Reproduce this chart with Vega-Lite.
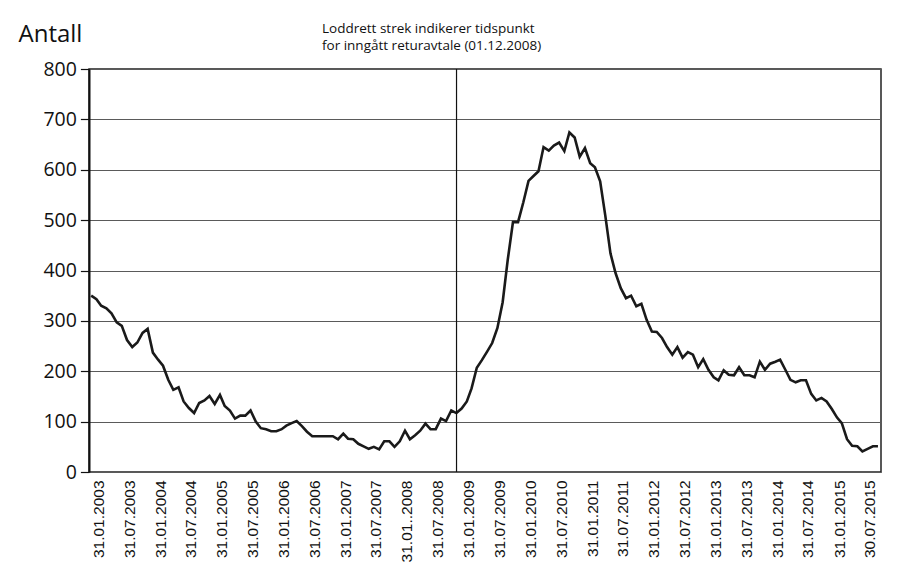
{
  "$schema": "https://vega.github.io/schema/vega-lite/v6.json",
  "width": 792,
  "height": 403,
  "autosize": {"type": "none"},
  "padding": {"left": 89, "top": 69, "right": 43, "bottom": 98},
  "background": "white",
  "title": {
    "text": ["Loddrett strek indikerer tidspunkt", "for inngått returavtale (01.12.2008)"],
    "anchor": "start",
    "align": "left",
    "frame": "group",
    "dx": 233,
    "offset": -30,
    "font": "Open Sans",
    "fontSize": 13.5,
    "fontWeight": "normal",
    "lineHeight": 17,
    "color": "#111111"
  },
  "datasets": {
    "series": [
      {"dato": "2002-12-31", "antall": 350},
      {"dato": "2003-01-31", "antall": 343}, {"dato": "2003-02-28", "antall": 330}, {"dato": "2003-03-31", "antall": 325}, {"dato": "2003-04-30", "antall": 315}, {"dato": "2003-05-31", "antall": 297}, {"dato": "2003-06-30", "antall": 290}, {"dato": "2003-07-31", "antall": 262}, {"dato": "2003-08-31", "antall": 248}, {"dato": "2003-09-30", "antall": 257}, {"dato": "2003-10-31", "antall": 276}, {"dato": "2003-11-30", "antall": 284}, {"dato": "2003-12-31", "antall": 237},
      {"dato": "2004-01-31", "antall": 223}, {"dato": "2004-02-29", "antall": 211}, {"dato": "2004-03-31", "antall": 183}, {"dato": "2004-04-30", "antall": 163}, {"dato": "2004-05-31", "antall": 168}, {"dato": "2004-06-30", "antall": 140}, {"dato": "2004-07-31", "antall": 127}, {"dato": "2004-08-31", "antall": 117}, {"dato": "2004-09-30", "antall": 137}, {"dato": "2004-10-31", "antall": 142}, {"dato": "2004-11-30", "antall": 151}, {"dato": "2004-12-31", "antall": 135},
      {"dato": "2005-01-31", "antall": 153}, {"dato": "2005-02-28", "antall": 131}, {"dato": "2005-03-31", "antall": 122}, {"dato": "2005-04-30", "antall": 106}, {"dato": "2005-05-31", "antall": 112}, {"dato": "2005-06-30", "antall": 112}, {"dato": "2005-07-31", "antall": 122}, {"dato": "2005-08-31", "antall": 100}, {"dato": "2005-09-30", "antall": 87}, {"dato": "2005-10-31", "antall": 85}, {"dato": "2005-11-30", "antall": 81}, {"dato": "2005-12-31", "antall": 81},
      {"dato": "2006-01-31", "antall": 85}, {"dato": "2006-02-28", "antall": 92}, {"dato": "2006-03-31", "antall": 97}, {"dato": "2006-04-30", "antall": 101}, {"dato": "2006-05-31", "antall": 91}, {"dato": "2006-06-30", "antall": 80}, {"dato": "2006-07-31", "antall": 71}, {"dato": "2006-08-31", "antall": 71}, {"dato": "2006-09-30", "antall": 71}, {"dato": "2006-10-31", "antall": 71}, {"dato": "2006-11-30", "antall": 71}, {"dato": "2006-12-31", "antall": 65},
      {"dato": "2007-01-31", "antall": 76}, {"dato": "2007-02-28", "antall": 66}, {"dato": "2007-03-31", "antall": 65}, {"dato": "2007-04-30", "antall": 56}, {"dato": "2007-05-31", "antall": 51}, {"dato": "2007-06-30", "antall": 46}, {"dato": "2007-07-31", "antall": 50}, {"dato": "2007-08-31", "antall": 45}, {"dato": "2007-09-30", "antall": 61}, {"dato": "2007-10-31", "antall": 61}, {"dato": "2007-11-30", "antall": 50}, {"dato": "2007-12-31", "antall": 61},
      {"dato": "2008-01-31", "antall": 82}, {"dato": "2008-02-29", "antall": 65}, {"dato": "2008-03-31", "antall": 73}, {"dato": "2008-04-30", "antall": 82}, {"dato": "2008-05-31", "antall": 96}, {"dato": "2008-06-30", "antall": 85}, {"dato": "2008-07-31", "antall": 85}, {"dato": "2008-08-31", "antall": 106}, {"dato": "2008-09-30", "antall": 101}, {"dato": "2008-10-31", "antall": 122}, {"dato": "2008-11-30", "antall": 117}, {"dato": "2008-12-31", "antall": 126},
      {"dato": "2009-01-31", "antall": 140}, {"dato": "2009-02-28", "antall": 166}, {"dato": "2009-03-31", "antall": 207}, {"dato": "2009-04-30", "antall": 222}, {"dato": "2009-05-31", "antall": 239}, {"dato": "2009-06-30", "antall": 256}, {"dato": "2009-07-31", "antall": 286}, {"dato": "2009-08-31", "antall": 337}, {"dato": "2009-09-30", "antall": 421}, {"dato": "2009-10-31", "antall": 496}, {"dato": "2009-11-30", "antall": 496}, {"dato": "2009-12-31", "antall": 535},
      {"dato": "2010-01-31", "antall": 578}, {"dato": "2010-02-28", "antall": 587}, {"dato": "2010-03-31", "antall": 597}, {"dato": "2010-04-30", "antall": 645}, {"dato": "2010-05-31", "antall": 638}, {"dato": "2010-06-30", "antall": 648}, {"dato": "2010-07-31", "antall": 654}, {"dato": "2010-08-31", "antall": 637}, {"dato": "2010-09-30", "antall": 674}, {"dato": "2010-10-31", "antall": 664}, {"dato": "2010-11-30", "antall": 626}, {"dato": "2010-12-31", "antall": 643},
      {"dato": "2011-01-31", "antall": 613}, {"dato": "2011-02-28", "antall": 605}, {"dato": "2011-03-31", "antall": 577}, {"dato": "2011-04-30", "antall": 510}, {"dato": "2011-05-31", "antall": 434}, {"dato": "2011-06-30", "antall": 395}, {"dato": "2011-07-31", "antall": 365}, {"dato": "2011-08-31", "antall": 345}, {"dato": "2011-09-30", "antall": 350}, {"dato": "2011-10-31", "antall": 329}, {"dato": "2011-11-30", "antall": 334}, {"dato": "2011-12-31", "antall": 302},
      {"dato": "2012-01-31", "antall": 279}, {"dato": "2012-02-29", "antall": 278}, {"dato": "2012-03-31", "antall": 266}, {"dato": "2012-04-30", "antall": 248}, {"dato": "2012-05-31", "antall": 233}, {"dato": "2012-06-30", "antall": 248}, {"dato": "2012-07-31", "antall": 227}, {"dato": "2012-08-31", "antall": 238}, {"dato": "2012-09-30", "antall": 233}, {"dato": "2012-10-31", "antall": 208}, {"dato": "2012-11-30", "antall": 224}, {"dato": "2012-12-31", "antall": 203},
      {"dato": "2013-01-31", "antall": 188}, {"dato": "2013-02-28", "antall": 182}, {"dato": "2013-03-31", "antall": 202}, {"dato": "2013-04-30", "antall": 193}, {"dato": "2013-05-31", "antall": 192}, {"dato": "2013-06-30", "antall": 208}, {"dato": "2013-07-31", "antall": 192}, {"dato": "2013-08-31", "antall": 192}, {"dato": "2013-09-30", "antall": 188}, {"dato": "2013-10-31", "antall": 219}, {"dato": "2013-11-30", "antall": 203}, {"dato": "2013-12-31", "antall": 215},
      {"dato": "2014-01-31", "antall": 219}, {"dato": "2014-02-28", "antall": 223}, {"dato": "2014-03-31", "antall": 203}, {"dato": "2014-04-30", "antall": 183}, {"dato": "2014-05-31", "antall": 178}, {"dato": "2014-06-30", "antall": 182}, {"dato": "2014-07-31", "antall": 182}, {"dato": "2014-08-31", "antall": 155}, {"dato": "2014-09-30", "antall": 142}, {"dato": "2014-10-31", "antall": 147}, {"dato": "2014-11-30", "antall": 140}, {"dato": "2014-12-31", "antall": 125},
      {"dato": "2015-01-31", "antall": 108}, {"dato": "2015-02-28", "antall": 97}, {"dato": "2015-03-31", "antall": 65}, {"dato": "2015-04-30", "antall": 52}, {"dato": "2015-05-31", "antall": 51}, {"dato": "2015-06-30", "antall": 41}, {"dato": "2015-07-31", "antall": 46}, {"dato": "2015-08-31", "antall": 51}, {"dato": "2015-09-30", "antall": 51}
    ],
    "avtale": [{"dato": "2008-12-01", "hendelse": "Inngått returavtale"}]
  },
  "encoding": {
    "x": {
      "field": "dato",
      "type": "temporal",
      "scale": {
        "type": "utc",
        "domain": [
          {"year": 2002, "month": 12, "date": 18, "utc": true},
          {"year": 2015, "month": 10, "date": 18, "utc": true}
        ]
      },
      "axis": {
        "title": null,
        "values": [
          {"year": 2003, "month": 1, "date": 31, "utc": true}, {"year": 2003, "month": 7, "date": 31, "utc": true},
          {"year": 2004, "month": 1, "date": 31, "utc": true}, {"year": 2004, "month": 7, "date": 31, "utc": true},
          {"year": 2005, "month": 1, "date": 31, "utc": true}, {"year": 2005, "month": 7, "date": 31, "utc": true},
          {"year": 2006, "month": 1, "date": 31, "utc": true}, {"year": 2006, "month": 7, "date": 31, "utc": true},
          {"year": 2007, "month": 1, "date": 31, "utc": true}, {"year": 2007, "month": 7, "date": 31, "utc": true},
          {"year": 2008, "month": 1, "date": 31, "utc": true}, {"year": 2008, "month": 7, "date": 31, "utc": true},
          {"year": 2009, "month": 1, "date": 31, "utc": true}, {"year": 2009, "month": 7, "date": 31, "utc": true},
          {"year": 2010, "month": 1, "date": 31, "utc": true}, {"year": 2010, "month": 7, "date": 31, "utc": true},
          {"year": 2011, "month": 1, "date": 31, "utc": true}, {"year": 2011, "month": 7, "date": 31, "utc": true},
          {"year": 2012, "month": 1, "date": 31, "utc": true}, {"year": 2012, "month": 7, "date": 31, "utc": true},
          {"year": 2013, "month": 1, "date": 31, "utc": true}, {"year": 2013, "month": 7, "date": 31, "utc": true},
          {"year": 2014, "month": 1, "date": 31, "utc": true}, {"year": 2014, "month": 7, "date": 31, "utc": true},
          {"year": 2015, "month": 1, "date": 31, "utc": true}, {"year": 2015, "month": 7, "date": 30, "utc": true}
        ],
        "labelExpr": "utcFormat(datum.value, '%d.%m.%Y') == '31.01.2008' ? '31.01..2008' : utcFormat(datum.value, '%d.%m.%Y')",
        "labelAngle": 270,
        "labelFont": "Liberation Sans",
        "labelFontSize": 15.5,
        "labelColor": "#111111",
        "labelPadding": 8,
        "labelOffset": 2,
        "labelOverlap": false,
        "labelFlush": false,
        "labelBound": false,
        "ticks": false,
        "domain": false,
        "grid": false
      }
    }
  },
  "layer": [
    {
      "data": {"name": "series"},
      "mark": {"type": "line", "color": "#1a1a1a", "strokeWidth": 2.6, "strokeJoin": "miter", "clip": true},
      "encoding": {
        "y": {
          "field": "antall",
          "type": "quantitative",
          "scale": {"domain": [0, 800], "nice": false, "zero": true},
          "axis": {
            "values": [0, 100, 200, 300, 400, 500, 600, 700, 800],
            "title": "Antall",
            "titleAngle": 0,
            "titleAlign": "left",
            "titleBaseline": "alphabetic",
            "titleX": -71,
            "titleY": -28,
            "titleFont": "Open Sans",
            "titleFontSize": 24,
            "titleFontWeight": "normal",
            "titleColor": "#111111",
            "labelFont": "Open Sans",
            "labelFontSize": 19.5,
            "labelColor": "#111111",
            "labelPadding": 4,
            "tickSize": 8.6,
            "tickColor": "#111111",
            "tickWidth": 1.2,
            "domainColor": "#111111",
            "domainWidth": 2,
            "grid": true,
            "gridColor": "#5a5a5a",
            "gridWidth": 1.2
          }
        }
      }
    },
    {
      "data": {"name": "avtale"},
      "mark": {"type": "rule", "color": "#111111", "strokeWidth": 1.2},
      "encoding": {}
    }
  ],
  "config": {
    "view": {"stroke": "#222222", "strokeWidth": 1.5},
    "axis": {"labelOverlap": false}
  }
}
